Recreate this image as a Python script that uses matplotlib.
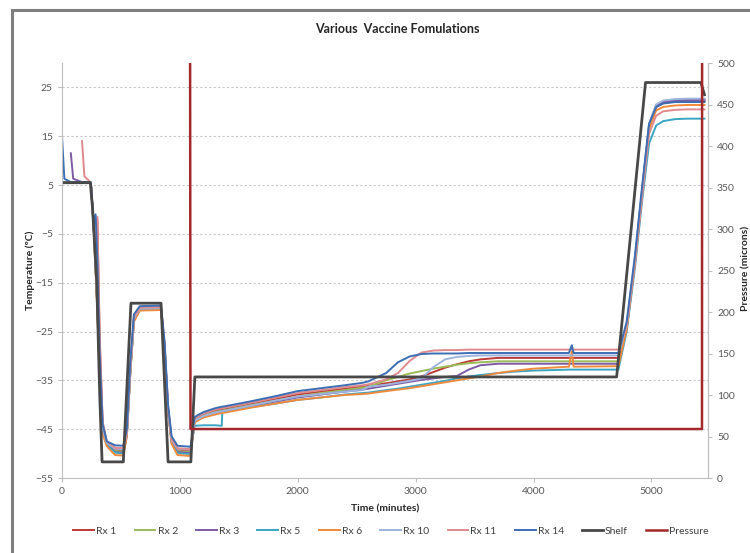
import numpy as np
import matplotlib
matplotlib.use("Agg")
import matplotlib.pyplot as plt
from matplotlib.patches import Rectangle

plt.rcParams['font.family'] = ['Lato', 'DejaVu Sans']

nan = np.nan

# Shared time base for the product thermocouples (minutes)
time_min = [0, 20, 75, 95, 170, 190,
            245, 270, 285, 300, 320, 345, 380, 450, 520,
            550, 580, 610, 660, 840, 870, 900, 930, 980, 1090,
            1100, 1125, 1200, 1300, 1355, 1360, 1450, 1600, 1800, 2000,
            2200, 2400, 2550, 2600, 2750, 2850, 2950, 3050, 3150, 3250,
            3350, 3450, 3550, 3700, 3850, 4000, 4300, 4325, 4340, 4720,
            4790, 4860, 4920, 4980, 5040, 5100, 5200, 5300, 5450]

# Product temperatures (degC)
rx1 = [5.5, 5.5, 5.5, 5.5, 5.5, 5.5,
       5.5, -4, -9, -2, -27, -44, -47.8, -49.2, -49.3,
       -46, -32.5, -22.3, -20.3, -20.2, -28, -41, -47.3, -49.2, -49.4,
       -47.7, -43.0, -42.0, -41.3, -41.0, -41.0, -40.6, -39.9, -38.9, -37.9,
       -37.3, -36.7, -36.3, -36.1, -35.6, -35.2, -34.8, -34.2, -33.3, -32.4,
       -31.7, -31.1, -30.7, -30.4, -30.4, -30.4, -30.4, -30.4, -30.4, -30.4,
       -24, -10.5, 3.5, 17, 21.0, 21.8, 22.1, 22.2, 22.2]
rx2 = [5.5, 5.5, 5.5, 5.5, 5.5, 5.5,
       5.5, -4, -12, -20, -34, -45, -48, -49.5, -49.6,
       -46, -33, -22.5, -20.4, -20.3, -28, -41, -47.5, -49.5, -49.7,
       -47.8, -43.2, -42.2, -41.5, -41.2, -41.2, -40.8, -40.1, -39.2, -38.3,
       -37.6, -37.0, -36.5, -36.3, -35.0, -34.3, -33.6, -33.1, -32.6, -32.2,
       -31.8, -31.5, -31.3, -31.1, -31.1, -31.1, -31.1, -31.1, -31.1, -31.1,
       -24, -10.5, 3.5, 17.3, 21.4, 22.2, 22.5, 22.6, 22.6]
rx3 = [nan, nan, 11.5, 6.3, 5.6, 5.6,
       5.5, -4, -12, -20, -34, -45, -48, -49.7, -49.8,
       -46.3, -33, -22.6, -20.5, -20.4, -28.2, -41.2, -47.6, -49.7, -49.9,
       -47.9, -43.4, -42.4, -41.7, -41.4, -41.4, -41.0, -40.3, -39.4, -38.5,
       -37.9, -37.3, -36.9, -36.7, -36.1, -35.7, -35.3, -34.9, -34.6, -34.3,
       -34.1, -32.8, -31.9, -31.6, -31.6, -31.6, -31.6, -31.6, -31.6, -31.6,
       -24.5, -11, 3, 17, 21.2, 22.0, 22.3, 22.4, 22.4]
rx5 = [5.4, 5.4, 5.4, 5.4, 5.4, 5.4,
       5.4, -4.5, -12, -20, -34.5, -45.5, -48.2, -49.8, -50.0,
       -46.3, -33.2, -22.8, -20.6, -20.5, -28.3, -41.3, -47.8, -49.9, -50.1,
       -48.0, -44.3, -44.2, -44.2, -44.3, -41.4, -41.0, -40.5, -39.8, -39.0,
       -38.5, -37.9, -37.6, -37.5, -37.0, -36.7, -36.3, -35.9, -35.5, -35.1,
       -34.6, -34.2, -33.9, -33.5, -33.2, -33.0, -32.8, -32.8, -32.8, -32.8,
       -25, -12, 1.5, 13.5, 17.2, 18.1, 18.5, 18.6, 18.6]
rx6 = [5.4, 5.4, 5.4, 5.4, 5.4, 5.4,
       5.4, -4.5, -13, -21, -35, -46, -48.5, -50.3, -50.4,
       -46.5, -33.5, -23, -20.7, -20.6, -28.5, -41.5, -48, -50.3, -50.5,
       -48.2, -43.6, -42.6, -42.0, -41.7, -41.7, -41.3, -40.6, -39.8, -39.0,
       -38.5, -38.0, -37.8, -37.7, -37.2, -36.9, -36.6, -36.2, -35.8, -35.4,
       -35.0, -34.6, -34.2, -33.5, -33.0, -32.6, -32.2, -29.0, -32.2, -32.1,
       -24.5, -11, 3, 16.5, 20.3, 21.0, 21.3, 21.4, 21.4]
rx10 = [5.5, 5.5, 5.5, 5.5, 5.5, 5.5,
        5.5, -4, -11, -19, -33, -45, -47.8, -49.0, -49.1,
        -45.8, -32.5, -22.3, -20.3, -20.2, -27.8, -40.8, -47.2, -49.0, -49.2,
        -47.7, -43.3, -42.3, -41.6, -41.3, -41.3, -40.9, -40.2, -39.2, -38.3,
        -37.8, -37.3, -37.0, -36.3, -35.9, -35.5, -35.1, -34.6, -32.3, -30.7,
        -30.2, -30.0, -29.9, -29.9, -29.9, -29.9, -29.9, -29.9, -29.9, -29.9,
        -23.5, -10, 4, 17.6, 21.5, 22.3, 22.6, 22.7, 22.7]
rx11 = [nan, nan, nan, nan, 14, 6.8,
        5.5, -4, -8, -1.5, -26, -43.5, -47.5, -48.8, -48.9,
        -45.5, -32, -22, -20.1, -20.0, -27.5, -40.5, -47, -48.9, -49.1,
        -47.5, -42.8, -41.8, -41.0, -40.7, -40.7, -40.3, -39.6, -38.6, -37.6,
        -37.0, -36.4, -36.0, -35.8, -34.8, -33.5, -31.0, -29.3, -28.9, -28.8,
        -28.8, -28.7, -28.7, -28.7, -28.7, -28.7, -28.7, -28.7, -28.7, -28.7,
        -24, -11, 2.5, 15.5, 19.2, 20.1, 20.4, 20.5, 20.5]
rx14 = [15, 6.3, 5.6, 5.6, 5.6, 5.6,
        5.5, -3, -1, -10, -30, -44, -47.5, -48.3, -48.4,
        -45, -31, -21.5, -19.8, -19.7, -27, -40, -46.5, -48.4, -48.6,
        -47, -42.5, -41.5, -40.7, -40.4, -40.4, -40.0, -39.3, -38.3, -37.2,
        -36.6, -36.0, -35.5, -35.2, -33.5, -31.3, -30.1, -29.6, -29.5, -29.5,
        -29.5, -29.4, -29.4, -29.4, -29.4, -29.4, -29.4, -27.8, -29.4, -29.4,
        -23, -9.5, 4.5, 17.5, 21.0, 21.7, 22.0, 22.0, 22.0]

# Shelf set-point trace (degC)
shelf_t = [0, 240, 260, 295, 320, 340, 520, 585, 840, 900, 1093, 1127, 4705, 4950, 5420, 5450]
shelf_v = [5.5, 5.5, 0, -15, -38, -51.7, -51.7, -19.2, -19.2, -51.7, -51.7, -34.3, -34.3, 26.0, 26.0, 23.5]

# Chamber pressure (microns); atmospheric readings sit above the axis range
pressure_t = [0, 1083, 1090, 5429, 5431, 5480]
pressure_v = [1000, 1000, 59, 59, 1000, 1000]

series_names = ["Rx 1", "Rx 2", "Rx 3", "Rx 5", "Rx 6", "Rx 10", "Rx 11", "Rx 14"]
series_vals = [rx1, rx2, rx3, rx5, rx6, rx10, rx11, rx14]
series_colors = ["#BE3A34", "#9BBB59", "#7D5BA6", "#3AA6C4", "#F08A3C",
                 "#9DB4DE", "#E08A8E", "#3C6EB4"]

for v in series_vals:
    assert len(v) == len(time_min)

W, H = 750, 553
fig = plt.figure(figsize=(W / 100, H / 100), dpi=100)
ax = fig.add_axes([62 / W, 1 - 478 / H, (708 - 62) / W, (478 - 63) / H])

for name, vals, col in zip(series_names, series_vals, series_colors):
    ax.plot(time_min, vals, color=col, lw=1.4, label=name, solid_joinstyle='round')
ax.plot(shelf_t, shelf_v, color="#484848", lw=2.0, label="Shelf")

ax.set_xlim(0, 5480)
ax.set_ylim(-55, 30)
ax.set_yticks(np.arange(-55, 26, 10))
ax.set_xticks(np.arange(0, 5001, 1000))
ax.yaxis.grid(True, color="#C8C8C8", lw=0.8, ls=(0, (2, 2)))
ax.set_axisbelow(True)
for s in ["left", "bottom", "right"]:
    ax.spines[s].set_color("#BFBFBF")
ax.spines["top"].set_visible(False)
ax.tick_params(axis="both", labelsize=7.5, colors="#595959", length=3, width=0.8)
ax.tick_params(axis="both", color="#BFBFBF")

ax2 = ax.twinx()
ax2.plot(pressure_t, pressure_v, color="#A3282C", lw=1.8, label="Pressure")
ax2.set_ylim(0, 500)
ax2.set_yticks(np.arange(0, 501, 50))
for s in ["left", "bottom", "right", "top"]:
    ax2.spines[s].set_visible(False)
ax2.spines["right"].set_visible(True)
ax2.spines["right"].set_color("#BFBFBF")
ax2.tick_params(axis="y", labelsize=7.5, labelcolor="#595959", color="#BFBFBF", length=3, width=0.8)

fig.text(397 / W, 1 - 29 / H, "Various  Vaccine Fomulations", ha="center", va="center",
         fontsize=9, fontweight="bold", color="#262626")
fig.text(385 / W, 1 - 509 / H, "Time (minutes)", ha="center", va="center",
         fontsize=7.5, fontweight="bold", color="#262626")
fig.text(30 / W, 1 - 270 / H, "Temperature (\u00baC)", ha="center", va="center", rotation=90,
         fontsize=7.5, fontweight="bold", color="#262626")
fig.text(745.5 / W, 1 - 268 / H, "Pressure (microns)", ha="center", va="center", rotation=90,
         fontsize=7.5, fontweight="bold", color="#262626")

h1, l1 = ax.get_legend_handles_labels()
h2, l2 = ax2.get_legend_handles_labels()
fig.legend(h1 + h2, l1 + l2, loc="center", bbox_to_anchor=(391 / W, 1 - 531 / H), ncol=10,
           frameon=False, fontsize=7.5, handlelength=2.0, handletextpad=0.2,
           columnspacing=1.75, labelcolor="#404040")

# chart frame
fig.add_artist(Rectangle((12 / W, -0.1), 2.0, 1.1 - 10 / H, transform=fig.transFigure,
                         fill=False, ec="#7F7F7F", lw=2.2))

fig.savefig("out.png", dpi=100, facecolor="white")
